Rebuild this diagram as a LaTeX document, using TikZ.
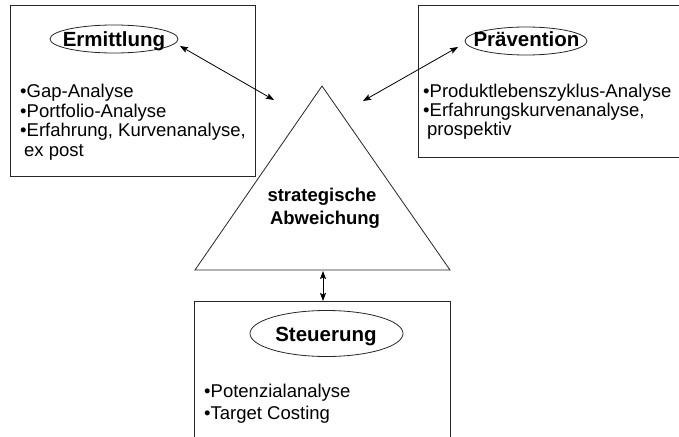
\documentclass[tikz,border=0pt]{standalone}
\usepackage{fontspec}
\setmainfont{Liberation Sans}
\usetikzlibrary{arrows.meta,shapes.geometric}
\begin{document}
\begin{tikzpicture}[x=1pt,y=-1pt,
  frame/.style={draw=black!85, line width=0.8pt},
  ell/.style={draw=black!85, line width=0.8pt, ellipse, inner sep=0pt},
  title/.style={anchor=base, inner sep=0pt, font=\bfseries\fontsize{20.5}{22}\selectfont},
  center text/.style={anchor=base, inner sep=0pt, font=\bfseries\fontsize{18.5}{20}\selectfont},
  item/.style={anchor=base west, inner sep=0pt, font=\fontsize{18.5}{20}\selectfont},
  dbl/.style={line width=0.8pt, {Stealth[length=8pt,width=6pt,inset=1.5pt]}-{Stealth[length=8pt,width=6pt,inset=1.5pt]}}]
\useasboundingbox (0,0) rectangle (679,436);
\clip (0,0) rectangle (679,436);
\fill[white] (0,0) rectangle (679,436);

% boxes
\node[frame, anchor=north west, minimum width=245pt, minimum height=171pt, inner sep=0pt] (lbox) at (10,5) {};
\node[frame, anchor=north west, minimum width=300pt, minimum height=152pt, inner sep=0pt] (rbox) at (418,5) {};
\node[frame, anchor=north west, minimum width=256pt, minimum height=150pt, inner sep=0pt] (bbox) at (194,301) {};

% triangle
\coordinate (tl) at (195,270);
\coordinate (tt) at (322,86);
\coordinate (tr) at (450,270);
\draw[frame] (tl) -- (tt) -- (tr) -- cycle;
\node[center text] (s1) at (322,201.5) {strategische};
\node[center text] (s2) at (325,224) {Abweichung};

% ellipses
\node[ell, minimum width=128pt, minimum height=28pt] (erm) at (114,39) {};
\node[title] (ermt) at (114,46.5) {Ermittlung};
\node[ell, minimum width=122pt, minimum height=28pt] (prae) at (526,41) {};
\node[title] (praet) at (526.5,46.5) {Prävention};
\node[ell, minimum width=153pt, minimum height=46pt] (steu) at (326.5,333.5) {};
\node[title] (steut) at (326,341.5) {Steuerung};

% left items
\node[item] (l1) at (20,97) {•Gap-Analyse};
\node[item] (l2) at (20,117) {•Portfolio-Analyse};
\node[item] (l3) at (20,136.5) {•Erfahrung, Kurvenanalyse,};
\node[item] (l4) at (24,156) {ex post};

% right items
\node[item] (r1) at (423,97) {•Produktlebenszyklus-Analyse};
\node[item] (r2) at (423,116.5) {•Erfahrungskurvenanalyse,};
\node[item] (r3) at (427,135.5) {prospektiv};

% bottom items
\node[item] (b1) at (204,397.5) {•Potenzialanalyse};
\node[item] (b2) at (204,419.5) {•Target Costing};

% arrows
\coordinate (a1s) at (180,46);
\coordinate (a1e) at (274,100);
\coordinate (a2s) at (363,101);
\coordinate (a2e) at (458,47);
\coordinate (a3s) at (323,271);
\coordinate (a3e) at (323,301);
\draw[dbl] (a1s) -- (a1e);
\draw[dbl] (a2s) -- (a2e);
\draw[dbl] (a3s) -- (a3e);
\end{tikzpicture}
\end{document}
